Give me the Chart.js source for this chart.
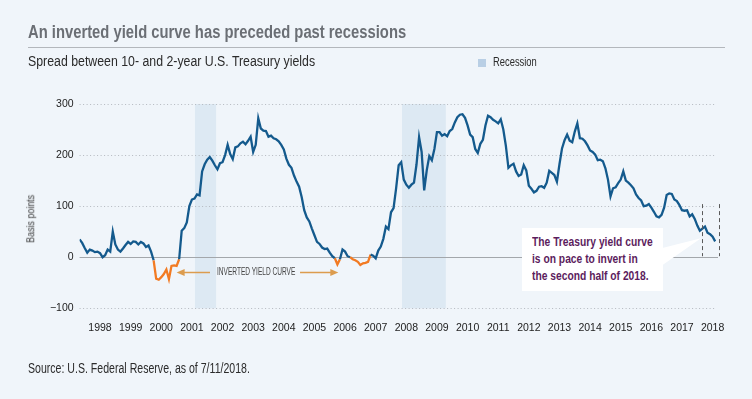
<!DOCTYPE html>
<html>
<head>
<meta charset="utf-8">
<script src="https://cdn.jsdelivr.net/npm/chart.js"></script>
<style>
  html, body { margin:0; padding:0; }
  body { width:752px; height:399px; background:#f0f5fa; position:relative; overflow:hidden;
         font-family:"Liberation Sans", Arial, sans-serif; }
  .t { position:absolute; white-space:nowrap; line-height:1; transform-origin:left top; }
  #title { left:28px; top:23px; font-size:18px; font-weight:bold; color:#6b6f75; }
  #rule { position:absolute; left:28px; top:47px; width:697px; height:1px; background:#b3b7bc; }
  #subtitle { left:28px; top:54.2px; font-size:14px; color:#2b2b2b; }
  #legsq { position:absolute; left:478px; top:59px; width:8px; height:8px; background:#b9cfe5; }
  #legtx { left:493px; top:55px; font-size:13px; color:#2b2b2b; }
  #ylab { font-size:11.5px; color:#3a3a3a; transform-origin:center center; }
  #source { left:28px; top:361.2px; font-size:14px; color:#2b2b2b; }
  #inv { left:216.8px; top:267.2px; font-size:10px; color:#444; }
  #box { position:absolute; left:521.7px; top:227.7px; width:141px; height:63.3px; background:#ffffff; }
  #note { left:532.3px; top:234.3px; font-size:13.5px; line-height:16.7px; font-weight:bold; color:#5c1d5d; }
  canvas { position:absolute; left:0; top:0; }
</style>
</head>
<body>
<canvas id="c" width="752" height="399"></canvas>
<div id="title" class="t" data-w="378">An inverted yield curve has preceded past recessions</div>
<div id="rule"></div>
<div id="subtitle" class="t" data-w="287">Spread between 10- and 2-year U.S. Treasury yields</div>
<div id="legsq"></div>
<div id="legtx" class="t" data-w="44">Recession</div>
<div id="ylab" class="t" data-w="48" data-cx="31" data-cy="219">Basis points</div>
<div id="inv" class="t" data-w="78">INVERTED YIELD CURVE</div>
<div id="box"></div>
<div id="note" class="t" data-w="120.4">The Treasury yield curve<br>is on pace to invert in<br>the second half of 2018.</div>
<div id="source" class="t" data-w="222">Source: U.S. Federal Reserve, as of 7/11/2018.</div>
<script>
// ---- data ----
const startYear = 1997;
const startMonth = 11; // November 1997, monthly values
const spreadBp = [
  35,28,18,9,15,13,10,11,8,0,
  4,15,11,50,25,15,11,17,24,30,
  26,31,30,25,30,27,20,23,11,-6,
  -42,-44,-39,-33,-24,-43,-17,-16,-17,-4,
  52,57,68,100,113,115,123,121,168,182,
  191,196,189,180,172,184,186,200,220,202,
  192,215,217,223,226,221,228,236,206,220,
  272,252,248,247,236,238,233,231,227,220,
  211,193,181,175,160,148,138,118,92,78,
  70,56,43,30,26,19,16,17,9,2,
  -2,-14,-4,15,11,2,0,-4,-6,-9,
  -15,-12,-11,-9,5,3,-2,13,21,36,
  60,55,88,96,135,180,186,152,142,136,
  142,146,182,235,206,131,170,198,190,212,
  245,245,238,241,237,247,251,264,274,279,
  280,273,258,240,235,212,204,222,230,258,
  277,274,269,266,262,270,250,218,175,180,
  183,168,159,162,180,170,140,134,127,130,
  138,139,136,146,169,165,161,148,182,213,
  229,240,228,225,246,262,233,232,227,219,
  209,206,201,190,191,188,174,152,119,135,
  137,145,152,168,150,146,141,135,123,116,
  111,100,101,104,97,89,80,78,83,97,
  122,125,124,113,110,102,92,91,92,80,
  84,75,62,52,56,60,48,45,40,31
];
const yearLabels = ['1998','1999','2000','2001','2002','2003','2004','2005','2006','2007','2008',
                    '2009','2010','2011','2012','2013','2014','2015','2016','2017','2018'];
const yTicks = [-100, 0, 100, 200, 300];
const recessions = [[2001.60, 2002.29], [2008.36, 2009.79]];

// ---- fit condensed text widths ----
document.querySelectorAll('[data-w]').forEach(el => {
  const w = el.offsetWidth, h = el.offsetHeight;
  const k = Number(el.dataset.w) / w;
  if (el.dataset.cx) {
    el.style.left = (Number(el.dataset.cx) - w / 2) + 'px';
    el.style.top = (Number(el.dataset.cy) - h / 2) + 'px';
    el.style.transform = 'rotate(-90deg) scaleX(' + k + ')';
  } else {
    el.style.transform = 'scaleX(' + k + ')';
  }
});

// ---- build ----
const t0 = startYear + (startMonth - 1) / 12;
const points = spreadBp.map((v, i) => ({ x: t0 + i / 12, y: v }));
const BLUE = '#145a8d', ORANGE = '#f27a22', ARROW = '#dc9c4e';
const TICKFONT = { family: '"Liberation Sans", Arial, sans-serif', size: 10.5 };

const deco = {
  id: 'deco',
  beforeDatasetsDraw(chart) {
    const { ctx, chartArea: a, scales: { x, y } } = chart;
    ctx.save();
    ctx.fillStyle = '#dde9f3';
    recessions.forEach(([s, e]) => {
      const x0 = x.getPixelForValue(s), x1 = x.getPixelForValue(e);
      ctx.fillRect(x0, a.top, x1 - x0, a.bottom - a.top);
    });
    yTicks.forEach(v => {
      const py = Math.round(y.getPixelForValue(v)) + 0.5;
      ctx.beginPath();
      if (v === 0) { ctx.setLineDash([]); ctx.strokeStyle = '#a3a7ab'; ctx.lineWidth = 1.2; }
      else { ctx.setLineDash([1, 2.5]); ctx.strokeStyle = '#b4b9bf'; ctx.lineWidth = 1; }
      ctx.moveTo(a.left, py); ctx.lineTo(v === 0 ? a.right + 1 : a.right - 1, py); ctx.stroke();
    });
    ctx.restore();
  },
  afterDatasetsDraw(chart) {
    const { ctx, scales: { x, y } } = chart;
    ctx.save();
    const ay = Math.round(y.getPixelForValue(-28)) + 0.5;
    const arrow = (from, to) => {
      const xf = x.getPixelForValue(from), xt = x.getPixelForValue(to);
      const dir = Math.sign(xt - xf);
      ctx.strokeStyle = ARROW; ctx.fillStyle = ARROW; ctx.lineWidth = 1.5;
      ctx.beginPath(); ctx.moveTo(xf, ay); ctx.lineTo(xt - dir * 6, ay); ctx.stroke();
      ctx.beginPath(); ctx.moveTo(xt, ay); ctx.lineTo(xt - dir * 8, ay - 3.5); ctx.lineTo(xt - dir * 8, ay + 3.5); ctx.closePath(); ctx.fill();
    };
    arrow(2002.09, 2001.00);
    arrow(2005.03, 2006.28);
    ctx.strokeStyle = '#5a5a5a'; ctx.lineWidth = 1; ctx.setLineDash([4, 3]);
    [2018.14, 2018.72].forEach(t => {
      const px = Math.round(x.getPixelForValue(t)) + 0.5;
      ctx.beginPath(); ctx.moveTo(px, y.getPixelForValue(104)); ctx.lineTo(px, y.getPixelForValue(2)); ctx.stroke();
    });
    ctx.setLineDash([]);
    const bx = x.getPixelForValue(2016.86);
    ctx.fillStyle = '#ffffff';
    ctx.beginPath();
    ctx.moveTo(bx - 2, y.getPixelForValue(17));
    ctx.lineTo(x.getPixelForValue(2018.12), y.getPixelForValue(37));
    ctx.lineTo(bx - 2, y.getPixelForValue(-18));
    ctx.closePath(); ctx.fill();
    ctx.restore();
  }
};

new Chart(document.getElementById('c'), {
  type: 'line',
  data: {
    datasets: [{
      data: points,
      borderColor: BLUE,
      borderWidth: 2.3,
      pointRadius: 0,
      tension: 0,
      fill: false,
      segment: {
        borderColor: c => ((c.p0.parsed.y + c.p1.parsed.y) / 2 < 0 ? ORANGE : BLUE)
      }
    }]
  },
  options: {
    responsive: false,
    animation: false,
    devicePixelRatio: 1,
    layout: { padding: { top: 104, right: 35, bottom: 0, left: 0 } },
    plugins: { legend: { display: false }, tooltip: { enabled: false } },
    scales: {
      x: {
        type: 'linear',
        min: t0,
        max: 2018.643,
        grid: { display: false, drawTicks: false },
        border: { display: false },
        afterBuildTicks: s => { s.ticks = yearLabels.map(l => ({ value: Number(l) + 0.5 })); },
        afterFit: s => { s.height = 90.7; },
        ticks: {
          autoSkip: false, maxRotation: 0, padding: 14,
          color: '#222', font: TICKFONT,
          callback: v => yearLabels[Math.round(v - 0.5) - Number(yearLabels[0])]
        }
      },
      y: {
        min: -100, max: 300,
        grid: { display: false, drawTicks: false },
        border: { display: false },
        afterBuildTicks: s => { s.ticks = yTicks.map(v => ({ value: v })); },
        afterFit: s => { s.width = 79.6; },
        ticks: {
          padding: 6,
          color: '#222', font: TICKFONT,
          callback: v => (v < 0 ? '\u2212' + Math.abs(v) : String(v))
        }
      }
    }
  },
  plugins: [deco]
});
</script>
</body>
</html>
